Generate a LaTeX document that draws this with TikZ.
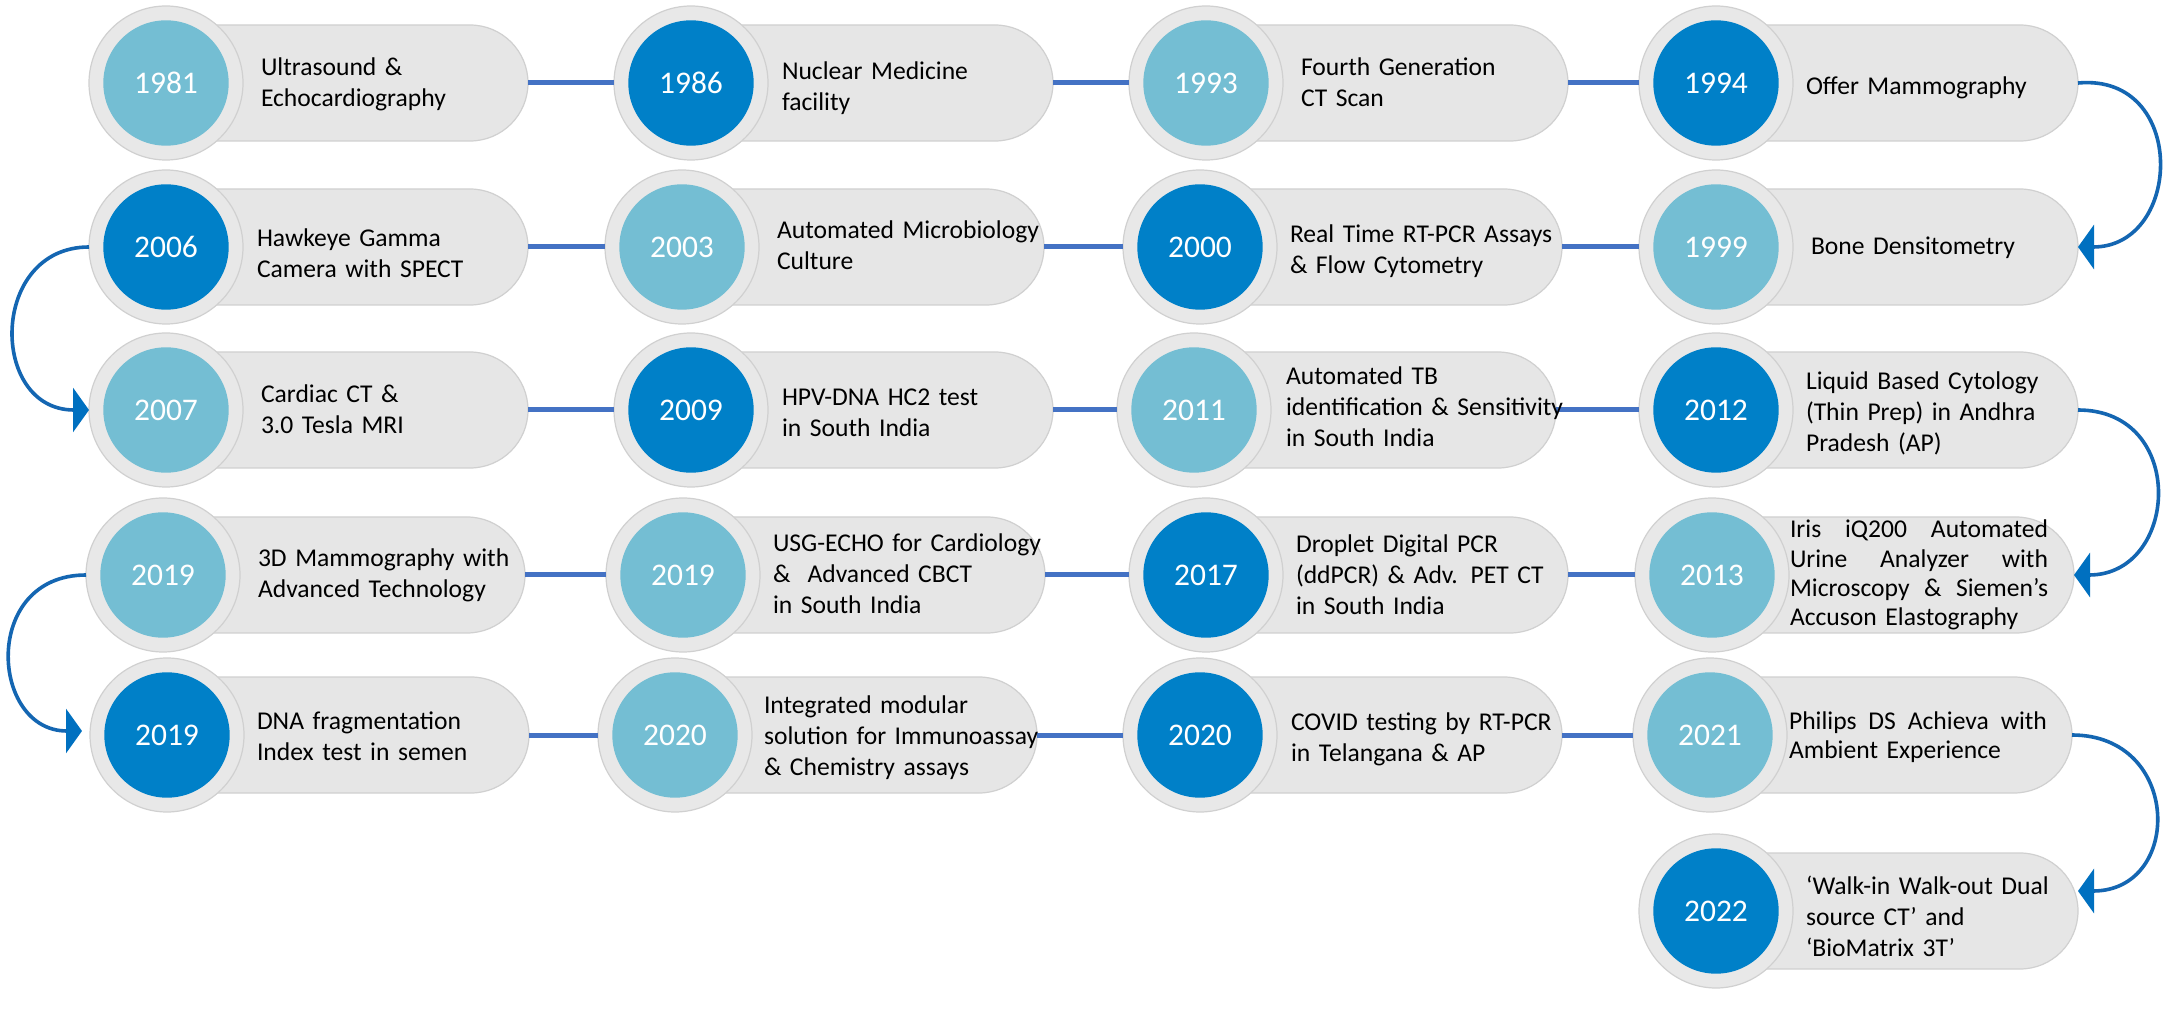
\documentclass[tikz,border=0pt]{standalone}
\usepackage{fontspec}
\setmainfont{Carlito}
\usetikzlibrary{arrows.meta}
\definecolor{lblue}{HTML}{74BED3}
\definecolor{dblue}{HTML}{0080C8}
\definecolor{pillgray}{HTML}{E6E6E6}
\definecolor{ringgray}{HTML}{E8E8E8}
\definecolor{edgegray}{HTML}{D0D0D0}
\definecolor{connblue}{HTML}{4472C4}
\definecolor{arrowblue}{HTML}{1466B2}
\definecolor{headblue}{HTML}{0070C0}
\newcommand\descfont{\fontsize{12.8pt}{15.5pt}\selectfont}
\newcommand\tightfont{\fontsize{12.8pt}{14.6pt}\selectfont}
\newcommand\yearfont{\fontsize{15.75pt}{18pt}\selectfont}
\newcommand\jl[1]{\leavevmode\hbox to 129pt{#1}}
\tikzset{
 pill/.style={rectangle, rounded corners=29pt, minimum width=211pt, minimum height=58pt, fill=pillgray, draw=edgegray, line width=0.6pt, inner sep=0pt, outer sep=0pt},
 ring/.style={circle, minimum size=77pt, fill=ringgray, draw=edgegray, line width=0.6pt, inner sep=0pt, outer sep=0pt},
 yrL/.style={circle, minimum size=62.7pt, fill=lblue, inner sep=0pt, outer sep=0pt, text=white, font=\yearfont},
 yrD/.style={yrL, fill=dblue},
 desc/.style={anchor=base west, inner sep=0pt, outer sep=0pt, text width=140pt, align=left, font=\descfont, text=black},
 conn/.style={draw=connblue, line width=2.5pt},
 curvearrow/.style={draw=arrowblue, line width=1.8pt, -{Triangle[length=8pt,width=22pt,color=headblue]}},
}
\begin{document}
\begin{tikzpicture}[x=0.5pt,y=-0.5pt]
\useasboundingbox (0,0) rectangle (2165,1021);
\fill[white] (0,0) rectangle (2165,1021);
% pills (right end = center + 362)
\node[pill] (p1) at (166+151,83) {};
\node[pill] (p2) at (691+151,83) {};
\node[pill] (p3) at (1206+151,83) {};
\node[pill] (p4) at (1716+151,83) {};
\node[pill] (p5) at (166+151,247) {};
\node[pill] (p6) at (682+151,247) {};
\node[pill] (p7) at (1200+151,247) {};
\node[pill] (p8) at (1716+151,247) {};
\node[pill] (p9) at (166+151,410) {};
\node[pill] (p10) at (691+151,410) {};
\node[pill] (p11) at (1194+151,410) {};
\node[pill] (p12) at (1716+151,410) {};
\node[pill] (p13) at (163+151,575) {};
\node[pill] (p14) at (683+151,575) {};
\node[pill] (p15) at (1206+151,575) {};
\node[pill] (p16) at (1712+151,575) {};
\node[pill] (p17) at (167+151,735) {};
\node[pill] (p18) at (675+151,735) {};
\node[pill] (p19) at (1200+151,735) {};
\node[pill] (p20) at (1710+151,735) {};
\node[pill] (p21) at (1716+151,911) {};
% rings
\node[ring] (o1) at (166,83) {};
\node[ring] (o2) at (691,83) {};
\node[ring] (o3) at (1206,83) {};
\node[ring] (o4) at (1716,83) {};
\node[ring] (o5) at (166,247) {};
\node[ring] (o6) at (682,247) {};
\node[ring] (o7) at (1200,247) {};
\node[ring] (o8) at (1716,247) {};
\node[ring] (o9) at (166,410) {};
\node[ring] (o10) at (691,410) {};
\node[ring] (o11) at (1194,410) {};
\node[ring] (o12) at (1716,410) {};
\node[ring] (o13) at (163,575) {};
\node[ring] (o14) at (683,575) {};
\node[ring] (o15) at (1206,575) {};
\node[ring] (o16) at (1712,575) {};
\node[ring] (o17) at (167,735) {};
\node[ring] (o18) at (675,735) {};
\node[ring] (o19) at (1200,735) {};
\node[ring] (o20) at (1710,735) {};
\node[ring] (o21) at (1716,911) {};
% horizontal connectors
\draw[conn] (p1.east) -- (o2.west);
\draw[conn] (p2.east) -- (o3.west);
\draw[conn] (p3.east) -- (o4.west);
\draw[conn] (p5.east) -- (o6.west);
\draw[conn] (p6.east) -- (o7.west);
\draw[conn] (p7.east) -- (o8.west);
\draw[conn] (p9.east) -- (o10.west);
\draw[conn] (p10.east) -- (o11.west);
\draw[conn] (p11.east) -- (o12.west);
\draw[conn] (p13.east) -- (o14.west);
\draw[conn] (p14.east) -- (o15.west);
\draw[conn] (p15.east) -- (o16.west);
\draw[conn] (p17.east) -- (o18.west);
\draw[conn] (p18.east) -- (o19.west);
\draw[conn] (p19.east) -- (o20.west);
% year discs
\node[yrL] (y1) at (o1) {1981};
\node[yrD] (y2) at (o2) {1986};
\node[yrL] (y3) at (o3) {1993};
\node[yrD] (y4) at (o4) {1994};
\node[yrD] (y5) at (o5) {2006};
\node[yrL] (y6) at (o6) {2003};
\node[yrD] (y7) at (o7) {2000};
\node[yrL] (y8) at (o8) {1999};
\node[yrL] (y9) at (o9) {2007};
\node[yrD] (y10) at (o10) {2009};
\node[yrL] (y11) at (o11) {2011};
\node[yrD] (y12) at (o12) {2012};
\node[yrL] (y13) at (o13) {2019};
\node[yrL] (y14) at (o14) {2019};
\node[yrD] (y15) at (o15) {2017};
\node[yrL] (y16) at (o16) {2013};
\node[yrD] (y17) at (o17) {2019};
\node[yrL] (y18) at (o18) {2020};
\node[yrD] (y19) at (o19) {2020};
\node[yrL] (y20) at (o20) {2021};
\node[yrD] (y21) at (o21) {2022};
% descriptions
\node[desc] (d1) at (261,76) {Ultrasound \&\\Echocardiography};
\node[desc] (d2) at (782,80) {Nuclear Medicine\\facility};
\node[desc] (d3) at (1301,76) {Fourth Generation\\CT Scan};
\node[desc] (d4) at (1806,95) {Offer Mammography};
\node[desc] (d5) at (257,247) {Hawkeye Gamma\\Camera with SPECT};
\node[desc] (d6) at (777,239) {Automated Microbiology\\Culture};
\node[desc] (d7) at (1290,243) {Real Time RT-PCR Assays\\\& Flow Cytometry};
\node[desc] (d8) at (1811,255) {Bone Densitometry};
\node[desc] (d9) at (261,403) {Cardiac CT \&\\3.0 Tesla MRI};
\node[desc] (d10) at (782,406) {HPV-DNA HC2 test\\in South India};
\node[desc] (d11) at (1286,385) {Automated TB\\identification \& Sensitivity\\in South India};
\node[desc] (d12) at (1806,390) {Liquid Based Cytology\\(Thin Prep) in Andhra\\Pradesh (AP)};
\node[desc] (d13) at (258,567) {3D Mammography with\\Advanced Technology};
\node[desc] (d14) at (773,552) {USG-ECHO for Cardiology\\\&~ Advanced CBCT\\in South India};
\node[desc] (d15) at (1296,553) {Droplet Digital PCR\\(ddPCR) \& Adv. PET CT\\in South India};
\node[desc,font=\tightfont] (d16) at (1790,538) {\jl{Iris\hfill iQ200\hfill Automated}\\\jl{Urine\hfill Analyzer\hfill with}\\\jl{Microscopy\hfill \&\hfill Siemen’s}\\Accuson Elastography};
\node[desc] (d17) at (257,729) {DNA fragmentation\\Index test in semen};
\node[desc] (d18) at (764,713) {Integrated modular\\solution for Immunoassay\\\& Chemistry assays};
\node[desc] (d19) at (1291,730) {COVID testing by RT-PCR\\in Telangana \& AP};
\node[desc,font=\tightfont] (d20) at (1789,729) {\jl{Philips\hfill DS\hfill Achieva\hfill with}\\Ambient Experience};
\node[desc] (d21) at (1806,894) {‘Walk-in Walk-out Dual\\source CT’ and\\‘BioMatrix 3T’};
% turning arrows
\draw[curvearrow] (p4.east) .. controls +(110,-10) and +(105,0) .. (p8.east);
\draw[curvearrow] (o5.west) .. controls +(-100,0) and +(-100,0) .. (o9.west);
\draw[curvearrow] (p12.east) .. controls +(110,0) and +(105,0) .. (p16.east);
\draw[curvearrow,shorten >=4pt] (o13.west) .. controls +(-105,0) and +(-100,0) .. ([yshift=2pt]o17.west);
\draw[curvearrow] (p20.east) .. controls +(110,0) and +(105,0) .. ([yshift=10pt]p21.east);
\end{tikzpicture}
\end{document}
